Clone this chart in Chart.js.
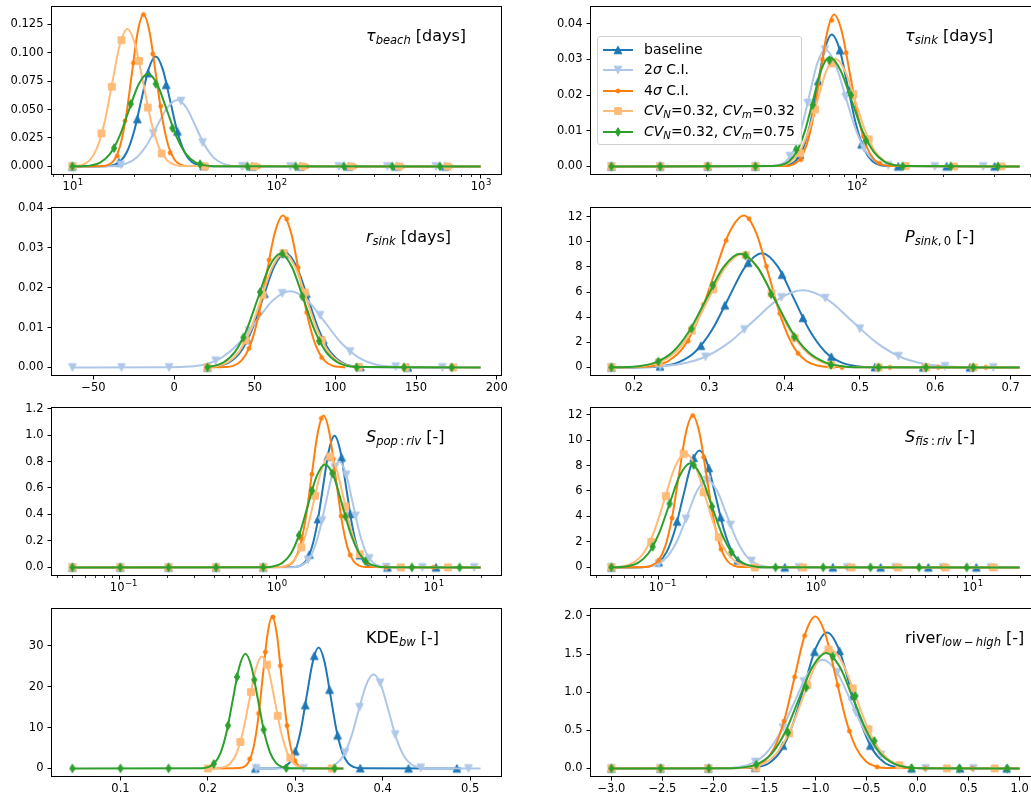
<!DOCTYPE html>
<html><head><meta charset="utf-8">
<script src="https://cdn.jsdelivr.net/npm/chart.js@4.4.1/dist/chart.umd.min.js"></script>
<style>
html,body{margin:0;padding:0;overflow:hidden;background:#fff;width:1031px;height:802px;position:relative;}
canvas.plot{position:absolute;}
.ttl{position:absolute;font-family:'DejaVu Sans';font-size:16px;line-height:1;white-space:nowrap;color:#000;}
.ttl sub,.leg sub{font-size:72%;vertical-align:-0.28em;line-height:0;}
.leg{position:absolute;left:597px;top:36px;width:203px;height:107px;border:1px solid #d0d0d0;border-radius:3px;background:rgba(255,255,255,0.85);}
.lrow{position:absolute;left:0;height:16px;}
.lrow canvas{position:absolute;left:4px;top:1px;}
.lrow span{position:absolute;left:46px;top:-1px;font-family:'DejaVu Sans';font-size:14px;line-height:16px;white-space:nowrap;color:#000;}
</style></head><body>
<script>
// ---------------- DATA ----------------
const seriesNames = ['baseline', '2<i>σ</i> C.I.', '4<i>σ</i> C.I.',
  '<i>CV</i><sub><i>N</i></sub>=0.32, <i>CV</i><sub><i>m</i></sub>=0.32',
  '<i>CV</i><sub><i>N</i></sub>=0.32, <i>CV</i><sub><i>m</i></sub>=0.75'];
const seriesColors = ['#1f77b4', '#aec7e8', '#ff7f0e', '#ffbb78', '#2ca02c'];
const seriesMarkers = ['^', 'v', '.', 's', 'd'];

// Panel 1: tau_beach (log x)
const tbBaseLine = [[10,0],[14.55,0.0002],[15.78,0.0011],[17.10,0.0042],[18.54,0.0131],[20.09,0.0314],[21.78,0.0586],[23.61,0.0853],[25.59,0.0966],[27.73,0.0853],[30.06,0.0586],[32.58,0.0314],[35.32,0.0131],[38.28,0.0042],[41.50,0.0011],[44.98,0.0002],[1000,0]];
const tbBaseMk = [[10,0],[16.9,0.0035],[20.8,0.0416],[23.5,0.082],[28.8,0.0717],[32.7,0.0307],[44,0.0003],[76,0],[131,0],[226,0],[389,0],[671,0]];
const tbSig2Line = [[10,0],[14.62,0.0001],[16.41,0.0006],[18.41,0.0026],[20.65,0.0079],[23.17,0.0190],[26.00,0.0355],[29.17,0.0516],[32.73,0.0585],[36.22,0.0516],[40.09,0.0355],[44.36,0.0190],[49.09,0.0079],[54.33,0.0026],[60.12,0.0006],[66.53,0.0001],[1000,0]];
const tbSig2Mk = [[10,0],[17.25,0.0015],[24.9,0.029],[34,0.0575],[43.4,0.021],[68,0.0001],[117,0],[202,0],[349,0],[603,0]];
const tbSig4Line = [[10,0],[14.08,0.0003],[15.03,0.0015],[16.06,0.0059],[17.14,0.0181],[18.30,0.0433],[19.54,0.0810],[20.87,0.1178],[22.28,0.1335],[23.90,0.1178],[25.64,0.0810],[27.51,0.0433],[29.51,0.0181],[31.66,0.0059],[33.96,0.0015],[36.43,0.0003],[1000,0]];
const tbSig4Mk = [[10,0],[16.6,0.009],[18.1,0.040],[19.9,0.091],[22.3,0.1335],[24.75,0.099],[27.1,0.053],[30.1,0.012],[45.5,0],[82,0],[141,0],[242,0],[413,0],[713,0]];
const tbCv32Line = [[10,0.0003],[11.14,0.0013],[12.13,0.0053],[13.21,0.0164],[14.39,0.0393],[15.67,0.0733],[17.06,0.1067],[18.58,0.1209],[20.32,0.1067],[22.23,0.0733],[24.32,0.0393],[26.61,0.0164],[29.11,0.0053],[31.84,0.0013],[34.83,0.0003],[1000,0]];
const tbCv32Mk = [[10,0.0003],[13.87,0.029],[15.6,0.070],[17.4,0.111],[21.2,0.0928],[23.4,0.0518],[27.4,0.0114],[44.5,0],[77.6,0],[134,0],[231,0],[398,0],[687,0]];
const tbCv75Line = [[10,0],[11.08,0.0002],[12.33,0.0009],[13.73,0.0036],[15.28,0.0110],[17.01,0.0264],[18.92,0.0494],[21.07,0.0718],[23.44,0.0814],[26.09,0.0718],[29.04,0.0494],[32.32,0.0264],[35.97,0.0110],[40.04,0.0036],[44.57,0.0009],[49.60,0.0002],[1000,0]];
const tbCv75Mk = [[10,0],[16.0,0.0161],[19.3,0.055],[25.6,0.0726],[30.9,0.0337],[42.2,0.002],[72,0],[124,0],[214,0],[369,0],[632,0]];
const tbXTicks = [[10,'10','1'],[100,'10','2'],[1000,'10','3']];
const tbXMinor = [8,9,20,30,40,50,60,70,80,90,200,300,400,500,600,700,800,900];
const tbYTicks = ['0.000','0.025','0.050','0.075','0.100','0.125'];

// Panel 2: tau_sink (log x)
const tsBaseLine = [[14,0],[54.7,0.0001],[57.9,0.0004],[61.4,0.0016],[65.0,0.0050],[68.9,0.0120],[72.9,0.0224],[77.3,0.0327],[81.85,0.0370],[87.3,0.0327],[93.1,0.0224],[99.3,0.0120],[105.9,0.0050],[113.0,0.0016],[120.5,0.0004],[128.5,0.0001],[369,0]];
const tsBaseMk = [[14,0],[20.7,0],[30.3,0],[44.4,0],[63.5,0.0033],[73.5,0.0239],[87.5,0.0326],[94.8,0.0215],[104,0.0062],[139.5,0],[205.5,0],[302,0]];
const tsSig2Line = [[14,0],[49.8,0.0001],[53.1,0.0004],[56.6,0.0014],[60.3,0.0044],[64.2,0.0107],[68.4,0.0199],[72.9,0.0289],[77.6,0.0328],[84.1,0.0289],[91.2,0.0199],[98.9,0.0107],[107.2,0.0044],[116.1,0.0014],[125.9,0.0004],[136.5,0.0001],[369,0]];
const tsSig2Mk = [[14,0],[20.7,0],[30.3,0],[44.4,0],[58.5,0.0029],[67.5,0.0178],[77.5,0.0328],[91.5,0.0195],[106,0.0051],[128.8,0.0003],[187,0],[275.6,0]];
const tsSig4Line = [[14,0],[56.6,0.0001],[59.8,0.0005],[63.2,0.0019],[66.8,0.0058],[70.6,0.0138],[74.6,0.0258],[78.9,0.0376],[83.4,0.0426],[88.9,0.0376],[94.8,0.0258],[101.2,0.0138],[107.9,0.0058],[115.1,0.0019],[122.7,0.0005],[130.9,0.0001],[369,0]];
const tsSig4Mk = [[14,0],[20.7,0],[30.3,0],[44.4,0],[63.9,0.0019],[70.3,0.0145],[76,0.030],[81.9,0.041],[91.9,0.0319],[98,0.0195],[105.5,0.0084],[120,0.0009],[150,0],[222,0],[325,0]];
const tsCv32Line = [[14,0],[51.1,0.0001],[54.8,0.0003],[58.9,0.0013],[63.2,0.0041],[67.9,0.0098],[72.9,0.0183],[78.3,0.0267],[84.1,0.0302],[91.2,0.0267],[98.9,0.0183],[107.2,0.0098],[116.1,0.0041],[125.9,0.0013],[136.5,0.0003],[147.9,0.0001],[369,0]];
const tsCv32Mk = [[14,0],[20.7,0],[30.3,0],[44.4,0],[63.5,0.0037],[71.6,0.016],[81.9,0.0289],[97.3,0.0203],[110,0.0076],[148,0.0001],[218,0],[318,0]];
const tsCv75Line = [[14,0],[50.8,0.0001],[54.2,0.0003],[57.9,0.0013],[61.8,0.0041],[66.0,0.0099],[70.5,0.0186],[75.2,0.0270],[80.35,0.0306],[87.8,0.0270],[95.9,0.0186],[104.8,0.0099],[114.6,0.0041],[125.2,0.0013],[136.8,0.0003],[149.4,0.0001],[369,0]];
const tsCv75Mk = [[14,0],[20.7,0],[30.3,0],[44.4,0],[61.6,0.0047],[70.3,0.0172],[80.4,0.0298],[95.5,0.020],[107.7,0.0072],[144.5,0],[212.6,0],[310,0]];
const tsXTicks = [[100,'10','2']];
const tsXMinor = [20,30,40,50,60,70,80,90,200,300,400];
const tsYTicks = ['0.00','0.01','0.02','0.03','0.04'];

// Panel 3: r_sink (linear x)
const rsBaseLine = [[20.7,0.0001],[27.3,0.0003],[34.25,0.0013],[41.2,0.0039],[48.15,0.0093],[55.1,0.0174],[62.05,0.0253],[69,0.0287],[75.95,0.0253],[82.9,0.0174],[89.85,0.0093],[96.8,0.0039],[103.75,0.0013],[110.7,0.0003],[117.65,0.0001],[171,0]];
const rsBaseMk = [[20.7,0],[45.5,0.0069],[56,0.0185],[69.5,0.0286],[82,0.0185],[92.5,0.0069],[115.5,0.0001],[145,0]];
const rsSig2Line = [[-63,0],[-1.5,0.00004],[9,0.0002],[19.5,0.0008],[30,0.0026],[40.5,0.0062],[51,0.0116],[61.5,0.0169],[72,0.0191],[82.5,0.0169],[93,0.0116],[103.5,0.0062],[114,0.0026],[124.5,0.0008],[135,0.0002],[145.5,0.00004],[190,0]];
const rsSig2Mk = [[-63,0],[-32.6,0],[-3.1,0],[25.8,0.0017],[46.5,0.0092],[67.1,0.0186],[90.5,0.0131],[109.1,0.0040],[137.4,0.0002],[166.3,0]];
const rsSig4Line = [[20.7,0],[31.45,0.0001],[36.6,0.0004],[41.75,0.0017],[46.9,0.0052],[52.05,0.0124],[57.2,0.0231],[62.35,0.0336],[67.5,0.0381],[72.65,0.0336],[77.8,0.0231],[82.95,0.0124],[88.1,0.0052],[93.25,0.0017],[98.4,0.0004],[103.55,0.0001],[106,0]];
const rsSig4Mk = [[20.7,0],[46.5,0.0048],[52.7,0.0135],[58.9,0.027],[69.8,0.0372],[76.9,0.0251],[82.2,0.0138],[91.5,0.0025]];
const rsCv32Line = [[20.7,0.0001],[26.3,0.0003],[33.25,0.0013],[40.2,0.0039],[47.15,0.0093],[54.1,0.0174],[61.05,0.0253],[68,0.0287],[74.95,0.0253],[81.9,0.0174],[88.85,0.0093],[95.8,0.0039],[102.75,0.0013],[109.7,0.0003],[116.65,0.0001],[190,0]];
const rsCv32Mk = [[20.7,0],[44.4,0.0068],[54.8,0.0182],[67.8,0.0287],[81,0.0188],[91.5,0.0068],[114.5,0.0001],[143.5,0],[173,0]];
const rsCv75Line = [[20.7,0.0002],[23.7,0.0003],[30.75,0.0013],[37.8,0.0039],[44.85,0.0093],[51.9,0.0173],[58.95,0.0252],[66,0.0285],[73.05,0.0252],[80.1,0.0173],[87.15,0.0093],[94.2,0.0039],[101.25,0.0013],[108.3,0.0003],[115.35,0.0001],[190,0]];
const rsCv75Mk = [[20.7,0],[43,0.0075],[53.3,0.0189],[67.1,0.0285],[79.5,0.0178],[89.9,0.0066],[113.2,0],[142.6,0],[172.1,0]];
const rsXTicks = ['−50','0','50','100','150','200'];
const rsYTicks = ['0.00','0.01','0.02','0.03','0.04'];

// Panel 4: P_sink,0 (linear x)
const psBaseLine = [[0.17,0],[0.2143,0.02],[0.2365,0.10],[0.2588,0.40],[0.281,1.23],[0.3033,2.95],[0.3255,5.51],[0.3478,8.02],[0.37,9.09],[0.391,8.02],[0.412,5.51],[0.433,2.95],[0.454,1.23],[0.475,0.40],[0.496,0.10],[0.517,0.02],[0.712,0]];
const psBaseMk = [[0.17,0],[0.2345,0.08],[0.2888,1.72],[0.3206,4.94],[0.3515,8.33],[0.3966,7.38],[0.4244,3.94],[0.462,0.85],[0.52,0.02],[0.584,0],[0.646,0]];
const psSig2Line = [[0.17,0.003],[0.1965,0.013],[0.229,0.068],[0.2615,0.27],[0.294,0.83],[0.3265,1.99],[0.359,3.72],[0.3915,5.41],[0.424,6.13],[0.4565,5.41],[0.489,3.72],[0.5215,1.99],[0.554,0.83],[0.5865,0.27],[0.619,0.068],[0.6515,0.013],[0.712,0]];
const psSig2Mk = [[0.17,0.003],[0.235,0.09],[0.295,0.85],[0.3466,3.02],[0.3957,5.58],[0.454,5.52],[0.5,3.09],[0.5511,0.9],[0.613,0.09],[0.677,0.002]];
const psSig4Line = [[0.17,0],[0.206,0.027],[0.226,0.134],[0.246,0.53],[0.266,1.63],[0.286,3.92],[0.306,7.33],[0.326,10.66],[0.346,12.08],[0.3625,10.66],[0.379,7.33],[0.3955,3.92],[0.412,1.63],[0.4285,0.53],[0.445,0.134],[0.4615,0.027],[0.712,0]];
const psSig4Mk = [[0.17,0],[0.2345,0.25],[0.272,2.1],[0.2923,5.0],[0.3223,10.1],[0.3528,11.83],[0.3758,8.04],[0.3935,4.29],[0.4178,1.12],[0.476,0],[0.54,0],[0.604,0],[0.667,0]];
const psCv32Line = [[0.17,0],[0.189,0.02],[0.211,0.10],[0.233,0.40],[0.255,1.22],[0.277,2.92],[0.299,5.46],[0.321,7.94],[0.343,9.0],[0.3645,7.94],[0.386,5.46],[0.4075,2.92],[0.429,1.22],[0.4505,0.40],[0.472,0.10],[0.4935,0.02],[0.712,0]];
const psCv32Mk = [[0.17,0],[0.233,0.4],[0.2768,2.92],[0.3052,6.2],[0.3485,8.93],[0.3826,5.9],[0.4135,2.34],[0.462,0.19],[0.525,0],[0.588,0],[0.651,0]];
const psCv75Line = [[0.17,0.006],[0.1838,0.02],[0.2063,0.10],[0.2288,0.40],[0.2513,1.22],[0.2738,2.94],[0.2963,5.48],[0.3188,7.98],[0.3413,9.04],[0.3638,7.98],[0.3863,5.48],[0.4088,2.94],[0.4313,1.22],[0.4538,0.40],[0.4763,0.10],[0.4988,0.02],[0.712,0]];
const psCv75Mk = [[0.17,0.006],[0.2322,0.47],[0.2764,3.09],[0.3047,6.53],[0.348,8.9],[0.382,5.82],[0.4129,2.43],[0.4615,0.2],[0.5247,0],[0.5878,0],[0.6505,0]];
const psXTicks = ['0.2','0.3','0.4','0.5','0.6','0.7'];
const psYTicks = ['0','2','4','6','8','10','12'];

// Panel 5: S_pop:riv (log x)
const spBaseLine = [[0.05,0],[1.288,0.0022],[1.403,0.011],[1.529,0.0437],[1.665,0.135],[1.814,0.323],[1.976,0.603],[2.152,0.878],[2.344,0.995],[2.554,0.878],[2.782,0.603],[3.03,0.323],[3.302,0.135],[3.596,0.0437],[3.917,0.011],[4.267,0.0022],[20,0]];
const spBaseMk = [[0.05,0],[0.101,0],[0.205,0],[0.412,0],[0.823,0],[1.62,0.097],[1.84,0.365],[2.12,0.837],[2.6,0.83],[2.95,0.404],[3.4,0.092],[5.1,0],[10.4,0]];
const spSig2Line = [[0.05,0],[1.254,0.0018],[1.385,0.0089],[1.529,0.0351],[1.689,0.108],[1.865,0.26],[2.06,0.485],[2.275,0.706],[2.512,0.80],[2.774,0.706],[3.064,0.485],[3.384,0.26],[3.737,0.108],[4.126,0.0351],[4.557,0.0089],[5.032,0.0018],[20,0]];
const spSig2Mk = [[0.05,0],[0.101,0],[0.205,0],[0.412,0],[0.823,0],[1.59,0.057],[1.95,0.354],[2.35,0.756],[2.78,0.70],[3.19,0.39],[3.9,0.068],[5.0,0.002],[8.5,0],[18.2,0]];
const spSig4Line = [[0.05,0],[1.084,0.0025],[1.183,0.0127],[1.291,0.0504],[1.408,0.155],[1.536,0.372],[1.676,0.696],[1.829,1.012],[1.995,1.147],[2.177,1.012],[2.375,0.696],[2.592,0.372],[2.828,0.155],[3.086,0.0504],[3.367,0.0127],[3.673,0.0025],[20,0]];
const spSig4Mk = [[0.05,0],[0.101,0],[0.205,0],[0.412,0],[0.823,0],[1.45,0.215],[1.68,0.705],[1.93,1.126],[2.3,0.82],[2.58,0.388],[2.95,0.093],[5.0,0],[10.0,0]];
const spCv32Line = [[0.05,0],[1.003,0.0018],[1.119,0.0093],[1.249,0.0369],[1.394,0.114],[1.556,0.273],[1.736,0.509],[1.938,0.741],[2.163,0.84],[2.414,0.741],[2.694,0.509],[3.007,0.273],[3.356,0.114],[3.746,0.0369],[4.18,0.0093],[4.666,0.0018],[20,0]];
const spCv32Mk = [[0.05,0],[0.101,0],[0.205,0],[0.412,0],[0.823,0],[1.44,0.152],[1.76,0.541],[2.2,0.837],[2.75,0.46],[3.4,0.10],[6.2,0],[12.4,0]];
const spCv75Line = [[0.05,0],[0.848,0.0017],[0.962,0.0086],[1.090,0.0342],[1.236,0.105],[1.401,0.253],[1.589,0.472],[1.801,0.687],[2.042,0.778],[2.315,0.687],[2.624,0.472],[2.975,0.253],[3.373,0.105],[3.824,0.0342],[4.335,0.0086],[4.914,0.0017],[20,0]];
const spCv75Mk = [[0.05,0],[0.101,0],[0.205,0],[0.412,0],[0.823,0.001],[1.39,0.242],[1.685,0.58],[2.27,0.71],[2.75,0.385],[3.69,0.048],[7.3,0],[14.7,0]];
const spXTicks = [[0.1,'10','−1'],[1,'10','0'],[10,'10','1']];
const spXMinor = [0.04,0.05,0.06,0.07,0.08,0.09,0.2,0.3,0.4,0.5,0.6,0.7,0.8,0.9,2,3,4,5,6,7,8,9,20];
const spYTicks = ['0.0','0.2','0.4','0.6','0.8','1.0','1.2'];

// Panel 6: S_fis:riv (log x)
const sfBaseLine = [[0.05,0],[0.0788,0.02],[0.0888,0.102],[0.1001,0.403],[0.1128,1.24],[0.1272,2.98],[0.1433,5.56],[0.1615,8.09],[0.182,9.17],[0.2051,8.09],[0.2311,5.56],[0.2604,2.98],[0.2935,1.24],[0.3307,0.403],[0.3727,0.102],[0.42,0.02],[20,0]];
const sfBaseMk = [[0.05,0],[0.1,0.4],[0.131,3.6],[0.167,8.6],[0.2085,7.8],[0.248,3.93],[0.32,0.55],[0.637,0],[1.29,0],[2.6,0],[5.24,0],[10.6,0]];
const sfSig2Line = [[0.05,0],[0.0752,0.015],[0.0866,0.076],[0.0999,0.301],[0.1151,0.928],[0.1328,2.23],[0.1531,4.16],[0.1766,6.05],[0.2037,6.86],[0.2349,6.05],[0.2709,4.16],[0.3124,2.23],[0.3602,0.928],[0.4154,0.301],[0.479,0.076],[0.5524,0.015],[20,0]];
const sfSig2Mk = [[0.05,0],[0.1,0.3],[0.1494,3.82],[0.2037,6.86],[0.2867,3.34],[0.3905,0.51],[0.783,0],[1.59,0],[3.24,0],[6.5,0],[13.1,0]];
const sfSig4Line = [[0.05,0],[0.0811,0.026],[0.0897,0.132],[0.0993,0.523],[0.1099,1.61],[0.1216,3.87],[0.1346,7.23],[0.1489,10.52],[0.1648,11.92],[0.1824,10.52],[0.2018,7.23],[0.2234,3.87],[0.2472,1.61],[0.2735,0.523],[0.3027,0.132],[0.335,0.026],[20,0]];
const sfSig4Mk = [[0.05,0],[0.1,0.55],[0.1216,3.87],[0.142,9.1],[0.165,11.92],[0.1936,8.66],[0.25,1.43],[0.4,0],[0.8,0],[1.6,0],[3.2,0],[6.4,0],[13,0]];
const sfCv32Line = [[0.05,0.014],[0.06,0.099],[0.0698,0.393],[0.0811,1.21],[0.0942,2.91],[0.1095,5.43],[0.1273,7.91],[0.1479,8.96],[0.1719,7.91],[0.1998,5.43],[0.2322,2.91],[0.2699,1.21],[0.3137,0.393],[0.3646,0.099],[0.4237,0.02],[20,0]];
const sfCv32Mk = [[0.05,0.014],[0.0897,2.0],[0.1114,5.6],[0.1445,8.9],[0.1936,5.9],[0.2415,2.37],[0.41,0],[0.834,0],[1.7,0],[3.37,0],[6.76,0],[13.7,0]];
const sfCv75Line = [[0.05,0.01],[0.0543,0.018],[0.0633,0.091],[0.0739,0.359],[0.0861,1.11],[0.1004,2.65],[0.1171,4.96],[0.1365,7.21],[0.1592,8.17],[0.1856,7.21],[0.2164,4.96],[0.2524,2.65],[0.2943,1.11],[0.3431,0.359],[0.4001,0.091],[0.4665,0.018],[20,0]];
const sfCv75Mk = [[0.05,0.01],[0.0916,1.62],[0.1175,5.0],[0.1671,8.04],[0.2188,4.78],[0.291,1.2],[0.556,0],[1.12,0],[2.24,0],[4.57,0],[9.2,0]];
const sfXTicks = [[0.1,'10','−1'],[1,'10','0'],[10,'10','1']];
const sfXMinor = [0.04,0.05,0.06,0.07,0.08,0.09,0.2,0.3,0.4,0.5,0.6,0.7,0.8,0.9,2,3,4,5,6,7,8,9,20];
const sfYTicks = ['0','2','4','6','8','10','12'];

// Panel 7: KDE_bw (linear x)
const kdBaseLine = [[0.2543,0],[0.2795,0.065],[0.2863,0.33],[0.293,1.3],[0.2997,4.0],[0.3065,9.61],[0.3132,17.95],[0.32,26.12],[0.3267,29.6],[0.3334,26.12],[0.3402,17.95],[0.3469,9.61],[0.3537,4.0],[0.3604,1.3],[0.3671,0.33],[0.3739,0.065],[0.49,0]];
const kdBaseMk = [[0.2543,0],[0.3,4.2],[0.3114,15.5],[0.3217,27.6],[0.3392,19.3],[0.3484,8.1],[0.3743,0.05],[0.4295,0],[0.4848,0]];
const kdSig2Line = [[0.2554,0],[0.329,0.05],[0.3376,0.26],[0.3463,1.01],[0.3549,3.12],[0.3636,7.49],[0.3722,13.99],[0.3809,20.36],[0.3895,23.07],[0.3981,20.36],[0.4068,13.99],[0.4154,7.49],[0.4241,3.12],[0.4327,1.01],[0.4414,0.26],[0.45,0.05],[0.512,0]];
const kdSig2Mk = [[0.2554,0],[0.3095,0],[0.357,3.9],[0.3735,15.0],[0.397,21],[0.4143,8.3],[0.4436,0.17],[0.4981,0]];
const kdSig4Line = [[0.2,0],[0.236,0.08],[0.2414,0.41],[0.2468,1.63],[0.2521,5.03],[0.2575,12.08],[0.2628,22.56],[0.2682,32.83],[0.2735,37.2],[0.2789,32.83],[0.2842,22.56],[0.2896,12.08],[0.2949,5.03],[0.3003,1.63],[0.3056,0.41],[0.311,0.08],[0.355,0]];
const kdSig4Mk = [[0.2,0],[0.2478,2.3],[0.258,13.5],[0.2657,28.5],[0.2745,37.1],[0.2829,25.2],[0.2905,10.5],[0.2995,1.9],[0.345,0]];
const kdCv32Line = [[0.2,0],[0.211,0.06],[0.2182,0.30],[0.2255,1.2],[0.2328,3.71],[0.24,8.9],[0.2473,16.62],[0.2546,24.18],[0.2619,27.4],[0.2692,24.18],[0.2765,16.62],[0.2837,8.9],[0.291,3.71],[0.2983,1.2],[0.3056,0.30],[0.3129,0.06],[0.355,0]];
const kdCv32Mk = [[0.2,0],[0.2371,6.5],[0.2493,18.7],[0.2676,25.4],[0.2798,12.9],[0.2943,2.6],[0.3419,0]];
const kdCv75Line = [[0.045,0],[0.1932,0.06],[0.2003,0.31],[0.2074,1.23],[0.2145,3.80],[0.2216,9.12],[0.2287,17.04],[0.2358,24.8],[0.2429,28.1],[0.25,24.8],[0.2571,17.04],[0.2642,9.12],[0.2713,3.80],[0.2784,1.23],[0.2855,0.31],[0.2926,0.06],[0.355,0]];
const kdCv75Mk = [[0.045,0],[0.1,0],[0.155,0],[0.2067,1.1],[0.223,10.5],[0.2333,22.4],[0.2531,21.7],[0.2638,9.5],[0.2897,0.1],[0.345,0]];
const kdXTicks = ['0.1','0.2','0.3','0.4','0.5'];
const kdYTicks = ['0','10','20','30'];

// Panel 8: river_low-high (linear x)
const rvBaseLine = [[-3,0],[-1.669,0.0039],[-1.557,0.0198],[-1.446,0.0783],[-1.334,0.241],[-1.222,0.579],[-1.11,1.081],[-0.998,1.573],[-0.886,1.783],[-0.774,1.573],[-0.662,1.081],[-0.55,0.579],[-0.438,0.241],[-0.326,0.0783],[-0.215,0.0198],[-0.103,0.0039],[1.0,0]];
const rvBaseMk = [[-3,0],[-2.52,0],[-2.05,0],[-1.59,0.01],[-1.319,0.3],[-1.1,1.13],[-1.01,1.53],[-0.765,1.54],[-0.635,0.95],[-0.463,0.3],[-0.059,0],[0.417,0],[0.873,0]];
const rvSig2Line = [[-3,0],[-1.907,0.0031],[-1.767,0.0158],[-1.628,0.0626],[-1.488,0.193],[-1.348,0.463],[-1.208,0.865],[-1.068,1.258],[-0.928,1.426],[-0.788,1.258],[-0.648,0.865],[-0.508,0.463],[-0.368,0.193],[-0.229,0.0626],[-0.089,0.0158],[0.051,0.0031],[1.0,0]];
const rvSig2Mk = [[-3,0],[-2.52,0],[-2.05,0],[-1.59,0.086],[-1.319,0.536],[-1.114,1.14],[-0.788,1.26],[-0.603,0.73],[-0.358,0.178],[0.081,0.001],[0.547,0]];
const rvSig4Line = [[-3,0],[-1.704,0.0044],[-1.604,0.0221],[-1.504,0.0874],[-1.404,0.269],[-1.303,0.646],[-1.203,1.208],[-1.103,1.757],[-1.003,1.991],[-0.903,1.757],[-0.803,1.208],[-0.703,0.646],[-0.602,0.269],[-0.502,0.0874],[-0.402,0.0221],[-0.302,0.0044],[1.0,0]];
const rvSig4Mk = [[-3,0],[-2.52,0],[-2.05,0],[-1.58,0.0],[-1.309,0.62],[-1.205,1.2],[-1.107,1.74],[-0.782,1.09],[-0.668,0.49],[-0.397,0.02],[0.072,0],[0.537,0]];
const rvCv32Line = [[-3,0],[-1.755,0.0034],[-1.628,0.0174],[-1.5,0.0687],[-1.373,0.212],[-1.245,0.508],[-1.118,0.949],[-0.990,1.381],[-0.863,1.565],[-0.736,1.381],[-0.608,0.949],[-0.481,0.508],[-0.353,0.212],[-0.226,0.0687],[-0.098,0.0174],[0.029,0.0034],[1.0,0]];
const rvCv32Mk = [[-3,0],[-2.52,0],[-2.05,0],[-1.58,0.01],[-1.26,0.46],[-1.081,1.09],[-0.873,1.56],[-0.635,1.05],[-0.482,0.515],[-0.179,0.043],[0.287,0],[0.756,0]];
const rvCv75Line = [[-3,0],[-1.819,0.0033],[-1.687,0.0168],[-1.555,0.0664],[-1.423,0.205],[-1.292,0.491],[-1.16,0.918],[-1.028,1.335],[-0.896,1.513],[-0.764,1.335],[-0.632,0.918],[-0.5,0.491],[-0.369,0.205],[-0.237,0.0664],[-0.105,0.0168],[0.027,0.0033],[1.0,0]];
const rvCv75Mk = [[-3,0],[-2.518,0],[-2.046,0],[-1.58,0.05],[-1.27,0.47],[-1.091,1.06],[-0.831,1.47],[-0.609,0.95],[-0.423,0.36],[-0.059,0.005],[0.407,0],[0.88,0]];
const rvXTicks = ['−3.0','−2.5','−2.0','−1.5','−1.0','−0.5','0.0','0.5','1.0'];
const rvYTicks = ['0.0','0.5','1.0','1.5','2.0'];

// ---------------- PANELS ----------------
const panels = [
  {col:0,row:0,log:true,lines:[tbBaseLine,tbSig2Line,tbSig4Line,tbCv32Line,tbCv75Line],marks:[tbBaseMk,tbSig2Mk,tbSig4Mk,tbCv32Mk,tbCv75Mk],xt:tbXTicks,xm:tbXMinor,yt:tbYTicks,
   title:'<i>τ</i><sub><i>beach</i></sub> [days]'},
  {col:1,row:0,log:true,lines:[tsBaseLine,tsSig2Line,tsSig4Line,tsCv32Line,tsCv75Line],marks:[tsBaseMk,tsSig2Mk,tsSig4Mk,tsCv32Mk,tsCv75Mk],xt:tsXTicks,xm:tsXMinor,yt:tsYTicks,
   title:'<i>τ</i><sub><i>sink</i></sub> [days]',legend:true},
  {col:0,row:1,log:false,lines:[rsBaseLine,rsSig2Line,rsSig4Line,rsCv32Line,rsCv75Line],marks:[rsBaseMk,rsSig2Mk,rsSig4Mk,rsCv32Mk,rsCv75Mk],xt:rsXTicks,xm:[],yt:rsYTicks,
   title:'<i>r</i><sub><i>sink</i></sub> [days]'},
  {col:1,row:1,log:false,lines:[psBaseLine,psSig2Line,psSig4Line,psCv32Line,psCv75Line],marks:[psBaseMk,psSig2Mk,psSig4Mk,psCv32Mk,psCv75Mk],xt:psXTicks,xm:[],yt:psYTicks,
   title:'<i>P</i><sub><i>sink</i>,&#8201;0</sub> [-]'},
  {col:0,row:2,log:true,lines:[spBaseLine,spSig2Line,spSig4Line,spCv32Line,spCv75Line],marks:[spBaseMk,spSig2Mk,spSig4Mk,spCv32Mk,spCv75Mk],xt:spXTicks,xm:spXMinor,yt:spYTicks,
   title:'<i>S</i><sub><i>pop</i>&#8201;:&#8201;<i>riv</i></sub> [-]'},
  {col:1,row:2,log:true,lines:[sfBaseLine,sfSig2Line,sfSig4Line,sfCv32Line,sfCv75Line],marks:[sfBaseMk,sfSig2Mk,sfSig4Mk,sfCv32Mk,sfCv75Mk],xt:sfXTicks,xm:sfXMinor,yt:sfYTicks,
   title:'<i>S</i><sub><i>fis</i>&#8201;:&#8201;<i>riv</i></sub> [-]'},
  {col:0,row:3,log:false,lines:[kdBaseLine,kdSig2Line,kdSig4Line,kdCv32Line,kdCv75Line],marks:[kdBaseMk,kdSig2Mk,kdSig4Mk,kdCv32Mk,kdCv75Mk],xt:kdXTicks,xm:[],yt:kdYTicks,
   title:'KDE<sub><i>bw</i></sub> [-]'},
  {col:1,row:3,log:false,lines:[rvBaseLine,rvSig2Line,rvSig4Line,rvCv32Line,rvCv75Line],marks:[rvBaseMk,rvSig2Mk,rvSig4Mk,rvCv32Mk,rvCv75Mk],xt:rvXTicks,xm:[],yt:rvYTicks,
   title:'river<sub><i>low</i>&#8201;−&#8201;<i>high</i></sub> [-]'}
];

// ---------------- LAYOUT ----------------
const AREA_LEFT = [52, 591];
const AREA_TOP = [7, 208, 408, 609];
const AREA_W = 449, AREA_H = 167;
const YAXIS_W = 52, XAXIS_H = 30, PAD_T = 12, PAD_R = 12;
const TICK_SIZE = 11.5, EXP_SIZE = 8.5;

function markerCanvas(kind, color) {
  const c = document.createElement('canvas');
  c.width = 14; c.height = 14;
  const g = c.getContext('2d');
  g.fillStyle = color; g.strokeStyle = color; g.lineWidth = 1;
  const cx = 7, cy = 7;
  g.beginPath();
  if (kind === '^') { g.moveTo(cx, cy - 3.8); g.lineTo(cx + 3.8, cy + 3.8); g.lineTo(cx - 3.8, cy + 3.8); }
  else if (kind === 'v') { g.moveTo(cx, cy + 3.8); g.lineTo(cx + 3.8, cy - 3.8); g.lineTo(cx - 3.8, cy - 3.8); }
  else if (kind === 's') { g.rect(cx - 3.4, cy - 3.4, 6.8, 6.8); }
  else if (kind === 'd') { g.moveTo(cx, cy - 4.3); g.lineTo(cx + 2.6, cy); g.lineTo(cx, cy + 4.3); g.lineTo(cx - 2.6, cy); }
  else if (kind === '.') { g.arc(cx, cy, 2.0, 0, Math.PI * 2); }
  g.closePath(); g.fill(); g.stroke();
  return c;
}
const markerImgs = seriesMarkers.map((m, i) => markerCanvas(m, seriesColors[i]));

function normTicks(arr) {
  return arr.map(t => typeof t === 'string' ? [parseFloat(t.replace('−', '-')), t, ''] : t);
}

function limits(lines, log) {
  let xs = [], ys = [];
  lines.forEach(l => l.forEach(p => { xs.push(p[0]); ys.push(p[1]); }));
  const x0 = Math.min(...xs), x1 = Math.max(...xs), y0 = Math.min(...ys), y1 = Math.max(...ys);
  const dy = (y1 - y0) * 0.05;
  let xmin, xmax;
  if (log) {
    const l0 = Math.log10(x0), l1 = Math.log10(x1), d = (l1 - l0) * 0.05;
    xmin = Math.pow(10, l0 - d); xmax = Math.pow(10, l1 + d);
  } else {
    const d = (x1 - x0) * 0.05; xmin = x0 - d; xmax = x1 + d;
  }
  return {xmin, xmax, ymin: y0 - dy, ymax: y1 + dy};
}

const spinePlugin = {
  id: 'spines',
  afterDraw(chart, args, opts) {
    const {ctx, chartArea: a} = chart;
    ctx.save();
    ctx.strokeStyle = '#000';
    ctx.lineWidth = 1;
    ctx.strokeRect(a.left - 0.5, a.top - 0.5, a.right - a.left + 1, a.bottom - a.top + 1);
    const minor = opts.minor || [];
    ctx.lineWidth = 0.8;
    ctx.beginPath();
    minor.forEach(v => {
      const x = Math.round(chart.scales.x.getPixelForValue(v)) + 0.5;
      if (x < a.left || x > a.right) return;
      ctx.moveTo(x, a.bottom + 0.5);
      ctx.lineTo(x, a.bottom + 3);
    });
    ctx.stroke();
    // exponents of log-axis tick labels (10^n)
    const exps = opts.exps || [];
    if (exps.some(e => e)) {
      const items = chart.scales.x.getLabelItems();
      items.forEach((it, i) => {
        const e = exps[i];
        if (!e) return;
        const o = it.options;
        const x = o.translation[0], y = o.translation[1] + (it.textOffset || 0);
        ctx.font = TICK_SIZE + 'px "DejaVu Sans"';
        ctx.textBaseline = o.textBaseline;
        const m = ctx.measureText(it.label);
        const digitsTop = y - m.actualBoundingBoxAscent;
        let left = x;
        if (o.textAlign === 'center') left = x + m.width / 2;
        else if (o.textAlign === 'left' || o.textAlign === 'start') left = x + m.width;
        ctx.font = EXP_SIZE + 'px "DejaVu Sans"';
        ctx.textBaseline = 'alphabetic';
        ctx.textAlign = 'left';
        const a2 = ctx.measureText('0').actualBoundingBoxAscent;
        ctx.fillStyle = '#000';
        ctx.fillText(e, left + 0.5, digitsTop - 3.2 + a2);
      });
    }
    ctx.restore();
  }
};

Chart.defaults.font.family = 'DejaVu Sans';
Chart.defaults.color = '#000';

panels.forEach(p => {
  const cv = document.createElement('canvas');
  cv.className = 'plot';
  const W = YAXIS_W + AREA_W + PAD_R, H = PAD_T + AREA_H + XAXIS_H;
  cv.width = W; cv.height = H;
  cv.style.width = W + 'px'; cv.style.height = H + 'px';
  cv.style.left = (AREA_LEFT[p.col] - YAXIS_W) + 'px';
  cv.style.top = (AREA_TOP[p.row] - PAD_T) + 'px';
  document.body.appendChild(cv);

  const lim = limits(p.lines, p.log);
  const xt = normTicks(p.xt), yt = normTicks(p.yt);
  const datasets = [];
  p.lines.forEach((l, i) => {
    datasets.push({data: l.map(q => ({x: q[0], y: q[1]})), showLine: true, borderColor: seriesColors[i],
      borderWidth: 2, pointRadius: 0, cubicInterpolationMode: 'monotone', fill: false, order: 20 - 2 * i});
    datasets.push({data: p.marks[i].map(q => ({x: q[0], y: q[1]})), showLine: false, pointStyle: markerImgs[i],
      pointRadius: 4, borderColor: seriesColors[i], backgroundColor: seriesColors[i], order: 19 - 2 * i});
  });
  const tickFont = {family: 'DejaVu Sans', size: TICK_SIZE};
  new Chart(cv, {
    type: 'scatter',
    data: {datasets},
    options: {
      responsive: false, animation: false, devicePixelRatio: 1, events: [],
      layout: {padding: {left: 0, right: PAD_R, top: PAD_T, bottom: 0}},
      plugins: {legend: {display: false}, tooltip: {enabled: false}, spines: {minor: p.xm, exps: xt.map(t => t[2])}},
      scales: {
        x: {type: p.log ? 'logarithmic' : 'linear', min: lim.xmin, max: lim.xmax, bounds: 'data',
          afterFit: s => { s.height = XAXIS_H; },
          afterBuildTicks: s => { s.ticks = xt.map(t => ({value: t[0]})); },
          ticks: {autoSkip: false, maxRotation: 0, minRotation: 0, font: tickFont, color: '#000', padding: 2,
            labelOffset: p.log ? -2.5 : 0,
            callback: (v, i) => xt[i] ? xt[i][1] : ''},
          grid: {display: true, drawOnChartArea: false, drawTicks: true, tickLength: 4.5, tickColor: '#000', tickWidth: 1},
          border: {display: false}},
        y: {type: 'linear', min: lim.ymin, max: lim.ymax, bounds: 'data',
          afterFit: s => { s.width = YAXIS_W; },
          afterBuildTicks: s => { s.ticks = yt.map(t => ({value: t[0]})); },
          ticks: {autoSkip: false, font: tickFont, color: '#000', padding: 4,
            callback: (v, i) => yt[i] ? yt[i][1] : ''},
          grid: {display: true, drawOnChartArea: false, drawTicks: true, tickLength: 4.5, tickColor: '#000', tickWidth: 1},
          border: {display: false}}
      }
    },
    plugins: [spinePlugin]
  });

  const t = document.createElement('div');
  t.className = 'ttl';
  t.innerHTML = p.title;
  t.style.left = (AREA_LEFT[p.col] + 314) + 'px';
  t.style.top = (AREA_TOP[p.row] + 20.5) + 'px';
  document.body.appendChild(t);

  if (p.legend) {
    const lg = document.createElement('div');
    lg.className = 'leg';
    seriesNames.forEach((name, i) => {
      const row = document.createElement('div');
      row.className = 'lrow';
      row.style.top = (4.5 + i * 20.6) + 'px';
      row.style.width = '200px';
      const h = document.createElement('canvas');
      h.width = 32; h.height = 14;
      const g = h.getContext('2d');
      g.strokeStyle = seriesColors[i]; g.lineWidth = 2;
      g.beginPath(); g.moveTo(1, 7); g.lineTo(31, 7); g.stroke();
      g.drawImage(markerImgs[i], 16 - 7, 0);
      row.appendChild(h);
      const sp = document.createElement('span');
      sp.innerHTML = name;
      row.appendChild(sp);
      lg.appendChild(row);
    });
    document.body.appendChild(lg);
  }
});
</script>
</body></html>
